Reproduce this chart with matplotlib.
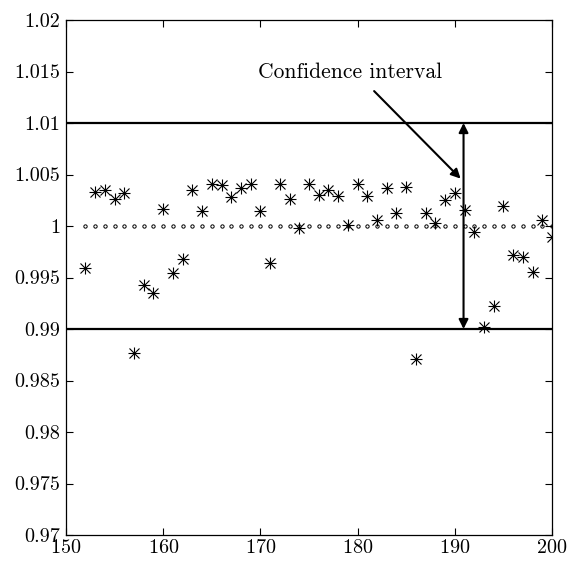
import numpy as np
import matplotlib
matplotlib.use("Agg")
import matplotlib.pyplot as plt
from matplotlib.ticker import FuncFormatter

plt.rcParams['font.family'] = ['cmr10', 'DejaVu Serif']
plt.rcParams['axes.formatter.use_mathtext'] = True

# data
x = np.arange(152, 201)
y = [0.9959, 1.0033, 1.0035, 1.0026, 1.0032, 0.9877, 0.9943, 0.9935, 1.0017, 0.9954,
     0.9968, 1.0035, 1.0015, 1.0041, 1.0040, 1.0028, 1.0037, 1.0041, 1.0015, 0.9964,
     1.0041, 1.0026, 0.9998, 1.0041, 1.0030, 1.0035, 1.0029, 1.0001, 1.0041, 1.0029,
     1.0006, 1.0037, 1.0013, 1.0038, 0.9871, 1.0013, 1.0003, 1.0025, 1.0032, 1.0016,
     0.9994, 0.9902, 0.9922, 1.0019, 0.9972, 0.9970, 0.9955, 1.0006, 0.9989]
nominal = 1.0
upper = 1.01
lower = 0.99
arrow_x = 190.9
label = "Confidence interval"
label_xy = (179.2, 1.0149)
pointer_from = (181.7, 1.0131)
pointer_to = (190.6, 1.0046)

fig = plt.figure(figsize=(5.7, 5.62), dpi=100)
ax = fig.add_axes([0.1158, 0.048, 0.8526, 0.9164])

ax.axhline(upper, color='black', lw=1.6)
ax.axhline(lower, color='black', lw=1.6)
ax.plot(x, np.full(len(x), nominal), 'o', ms=2.4, mfc='none', mec='black', mew=0.7)
ax.plot(x, y, '+', ms=8.5, color='black', mew=0.8)
ax.plot(x, y, 'x', ms=6.5, color='black', mew=0.8)

ax.annotate('', xy=(arrow_x, upper), xytext=(arrow_x, lower),
            arrowprops=dict(arrowstyle='<|-|>', color='black', lw=1.5,
                            mutation_scale=14, shrinkA=0, shrinkB=0))
ax.annotate('', xy=pointer_to, xytext=pointer_from,
            arrowprops=dict(arrowstyle='-|>', color='black', lw=1.5,
                            mutation_scale=14, shrinkA=0, shrinkB=0))
ax.text(label_xy[0], label_xy[1], label, ha='center', va='center', fontsize=15.5)

ax.set_xlim(150, 200)
ax.set_ylim(0.97, 1.02)
ax.set_xticks(np.arange(150, 201, 10))
ax.set_yticks(np.linspace(0.97, 1.02, 11))
ax.yaxis.set_major_formatter(FuncFormatter(lambda v, p: f"{v:.3f}".rstrip('0').rstrip('.')))
ax.tick_params(direction='in', top=True, right=True, length=5, width=0.8,
               labelsize=14.5, pad=4)
ax.tick_params(axis='x', pad=3)
for s in ax.spines.values():
    s.set_linewidth(0.9)

fig.savefig("out.png", dpi=100)
